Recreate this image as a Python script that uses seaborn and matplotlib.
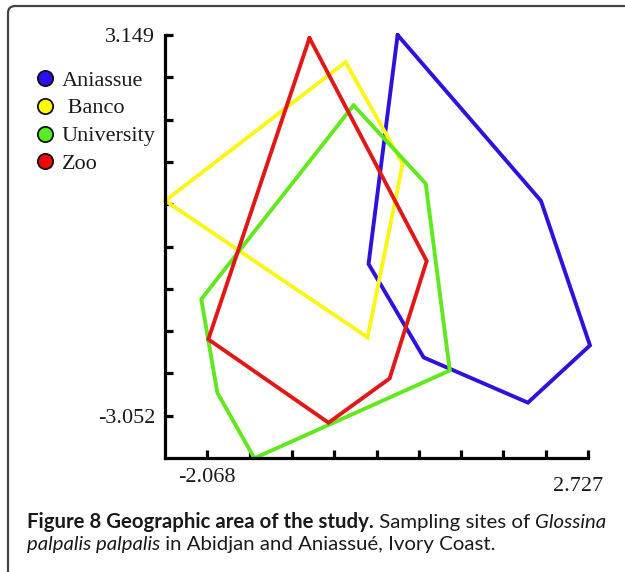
import numpy as np
import pandas as pd
import matplotlib
matplotlib.use("Agg")
import matplotlib.pyplot as plt
import seaborn as sns
from matplotlib.lines import Line2D
from matplotlib.patches import FancyBboxPatch
import matplotlib.transforms as mtransforms

# ---------------- data ----------------
sites = ["Aniassue", "Banco", "University", "Zoo"]
legend_labels = ["Aniassue", " Banco", "University", "Zoo"]
aniassue_x = [0.329, 2.134, 2.752, 1.970, 0.657, -0.037]
aniassue_y = [3.149, 0.449, -1.907, -2.839, -2.103, -0.581]
banco_x = [-2.598, -0.327, 0.393, -0.049]
banco_y = [0.449, 2.707, 1.055, -1.776]
university_x = [-0.226, 0.683, 0.986, -1.475, -1.942, -2.144]
university_y = [2.004, 0.728, -2.316, -3.745, -2.676, -1.154]
zoo_x = [-0.781, 0.695, 0.228, -0.541, -2.055]
zoo_y = [3.100, -0.532, -2.446, -3.166, -1.808]
x_min_label, x_max_label = -2.068, 2.727
y_min_label, y_max_label = -3.052, 3.149
n_intervals = 9
x_tick_labels = ["-2.068", "2.727"]
y_tick_labels = ["-3.052", "3.149"]

line_colors = ["#2c12dc", "#fbf51a", "#62e81e", "#e01818"]
marker_colors = ["#2a10f0", "#ffff00", "#55ee22", "#ee0808"]

xs = [aniassue_x, banco_x, university_x, zoo_x]
ys = [aniassue_y, banco_y, university_y, zoo_y]
rows = []
for s, xv, yv in zip(sites, xs, ys):
    for i, (a, b) in enumerate(list(zip(xv, yv)) + [(xv[0], yv[0])]):
        rows.append({"site": s, "order": i, "x": a, "y": b})
df = pd.DataFrame(rows)

# ---------------- figure ----------------
sns.set_theme(style="white")
plt.rcParams["font.family"] = ["Liberation Serif", "DejaVu Serif"]
W, H = 625, 572
fig = plt.figure(figsize=(W / 100, H / 100), dpi=100)

# frame
frame = FancyBboxPatch((8 / W, 1 - 580 / H), 660 / W, (580 - 6) / H,
                       boxstyle="round,pad=0,rounding_size=0.012",
                       transform=fig.transFigure, fill=False,
                       edgecolor="#444444", linewidth=1.6, clip_on=True)
fig.patches.append(frame)

ax = fig.add_axes([165 / W, 1 - 458 / H, (588 - 165) / W, (458 - 35) / H])
ax.set_facecolor("none")

sns.lineplot(data=df, x="x", y="y", hue="site", hue_order=sites,
             palette=line_colors, sort=False, estimator=None,
             linewidth=2.8, legend=False, ax=ax)
for ln in ax.lines:
    ln.set_clip_on(False)
    ln.set_solid_joinstyle("miter")

xstep = (x_max_label - x_min_label) / (n_intervals)
ystep = (y_max_label - y_min_label) / (n_intervals)
ax.set_xlim(x_min_label - xstep, x_max_label)
ax.set_ylim(y_min_label - ystep, y_max_label)
xt = [x_min_label + k * xstep for k in range(n_intervals + 1)]
yt = [y_min_label + k * ystep for k in range(n_intervals + 1)]
ax.set_xticks(xt)
ax.set_yticks(yt)
ax.set_xticklabels([x_tick_labels[0]] + [""] * (n_intervals - 1) + [x_tick_labels[1]])
ax.set_yticklabels([y_tick_labels[0]] + [""] * (n_intervals - 1) + [y_tick_labels[1]])
ax.set_xlabel("")
ax.set_ylabel("")

for side in ["top", "right"]:
    ax.spines[side].set_visible(False)
for side in ["left", "bottom"]:
    ax.spines[side].set_linewidth(2.3)
    ax.spines[side].set_color("black")
    ax.spines[side].set_capstyle("projecting")
ax.tick_params(axis="both", which="major", direction="in", length=6, width=2.3,
               color="black", labelsize=16, labelcolor="#1a1a1a",
               bottom=True, left=True, top=False, right=False)
ax.tick_params(axis="y", pad=7)
ax.tick_params(axis="x", pad=7)

# shift last x tick label down a bit
lbl = ax.get_xticklabels()[-1]
lbl.set_transform(lbl.get_transform() +
                  mtransforms.ScaledTranslation(-10 / 100, -9 / 100, fig.dpi_scale_trans))

# legend
handles = [Line2D([0], [0], marker="o", linestyle="none", markersize=11,
                  markerfacecolor=c, markeredgecolor="#111111", markeredgewidth=1.3)
           for c in marker_colors]
fig.legend(handles, legend_labels, loc="upper left",
           bbox_to_anchor=(36 / W, 1 - 70 / H), frameon=False,
           fontsize=16, handlelength=0.8, handletextpad=0.35,
           labelspacing=0.33, borderpad=0, borderaxespad=0, labelcolor="#1a1a1a")

# caption
cap_font = "Lato"
line1 = [("Figure 8 Geographic area of the study.", "bold", "normal"),
         (" Sampling sites of ", "normal", "normal"),
         ("Glossina", "normal", "italic")]
line2 = [("palpalis palpalis", "normal", "italic"),
         (" in Abidjan and Aniassué, Ivory Coast.", "normal", "normal")]

renderer = fig.canvas.get_renderer()


def measure(pieces, size):
    total = 0
    for t, w, st in pieces:
        tt = fig.text(0, 0, t, fontsize=size, fontweight=w, fontstyle=st,
                      family=cap_font)
        total += tt.get_window_extent(renderer).width
        tt.remove()
    return total


base = 12.0
target = 605 - 27
size = base * target / measure(line1, base)


def place(pieces, x0, ybase, size):
    x = x0
    for t, w, st in pieces:
        tt = fig.text(x / W, 1 - ybase / H, t, fontsize=size, fontweight=w,
                      fontstyle=st, family=cap_font, color="#1a1a1a",
                      va="baseline", ha="left")
        x += tt.get_window_extent(renderer).width


place(line1, 27, 528, size)
place(line2, 27, 550, size)

fig.savefig("out.png", dpi=100)
